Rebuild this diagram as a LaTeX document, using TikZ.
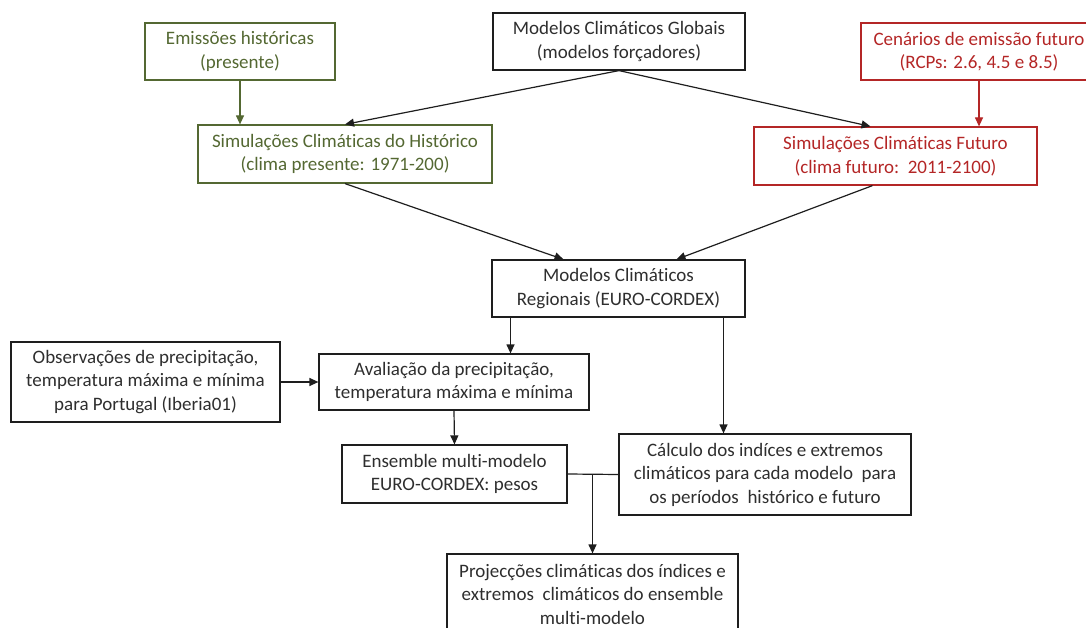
\documentclass[tikz,border=0pt]{standalone}
\usepackage{fontspec}
\setmainfont{Carlito}[Ligatures=NoCommon]
\usepackage{tikz}
\usetikzlibrary{arrows.meta}
\definecolor{histgreen}{RGB}{84,104,50}
\definecolor{futred}{RGB}{180,38,38}
\definecolor{boxline}{RGB}{30,30,30}

\begin{document}
\begin{tikzpicture}[x=1pt,y=-1pt]
        \useasboundingbox (0,0) rectangle (1086,628);

        \begin{scope}[every node/.style={draw=boxline,line width=1.2pt,rectangle,align=center,inner sep=0pt,
                      text=black!82,font=\fontsize{19}{23.5}\selectfont}]
            \node (glob) [minimum width=252pt,minimum height=57pt] at (619,41.5) {Modelos Climáticos Globais\\(modelos forçadores)};
            \node (emis) [draw=histgreen,text=histgreen,minimum width=190pt,minimum height=57pt] at (240,51.5) {Emissões históricas\\(presente)};
            \node (cen) [draw=futred,text=futred,minimum width=236pt,minimum height=57pt] at (979,51.5) {Cenários de emissão futuro\\(RCPs: 2.6, 4.5 e 8.5)};
            \node (hist) [draw=histgreen,text=histgreen,minimum width=294pt,minimum height=58pt] at (345,154) {Simulações Climáticas do Histórico\\(clima presente: 1971-200)};
            \node (fut) [draw=futred,text=futred,minimum width=283pt,minimum height=58pt] at (895.5,156) {Simulações Climáticas Futuro\\(clima futuro:\ \ 2011-2100)};
            \node (reg) [minimum width=253pt,minimum height=57pt] at (618.5,288.5) {Modelos Climáticos\\Regionais (EURO-CORDEX)};
            \node (obs) [minimum width=269pt,minimum height=80pt] at (145.5,382) {Observações de precipitação,\\temperatura máxima e mínima\\para Portugal (Iberia01)};
            \node (aval) [minimum width=270pt,minimum height=56pt] at (454,382) {Avaliação da precipitação,\\temperatura máxima e mínima};
            \node (ens) [minimum width=225pt,minimum height=58pt] at (454.5,474) {Ensemble multi-modelo\\EURO-CORDEX: pesos};
            \node (calc) [minimum width=292pt,minimum height=81pt] at (765,474.5) {Cálculo dos indíces e extremos\\climáticos para cada modelo\ \ para\\os períodos\ \ histórico e futuro};
            \node (proj) [minimum width=291pt,minimum height=80pt] at (592.5,594) {Projecções climáticas dos índices e\\extremos\ \ climáticos do ensemble\\multi-modelo};
        \end{scope}

        \coordinate (join) at (proj.north |- ens.east);

        \begin{scope}[>={Triangle[length=9pt,width=8pt]},
                      every edge/.style={draw=boxline,line width=1.2pt}]
            \path [->] (emis.south) edge [histgreen] (emis.south |- hist.north);
            \path [->] (cen.south) edge [futred] (cen.south |- fut.north);
            \path [->] (glob.south) edge (hist.north);
            \path [->] (glob.south) edge ([xshift=-25pt]fut.north);
            \path [->] (hist.south) edge ([xshift=-55pt]reg.north);
            \path [->] ([xshift=-23pt]fut.south) edge ([xshift=58pt]reg.north);
            \path [->] ([xshift=-108pt]reg.south) edge ([xshift=-108pt]reg.south |- aval.north);
            \path [->] ([xshift=105pt]reg.south) edge ([xshift=105pt]reg.south |- calc.north);
            \path [->] (obs.east) edge (obs.east -| aval.west);
            \path [->] (aval.south) edge (ens.north);
            \path [-] (ens.east) edge (calc.west);
            \path [->] (join) edge (proj.north);
        \end{scope}
    \end{tikzpicture}
\end{document}
